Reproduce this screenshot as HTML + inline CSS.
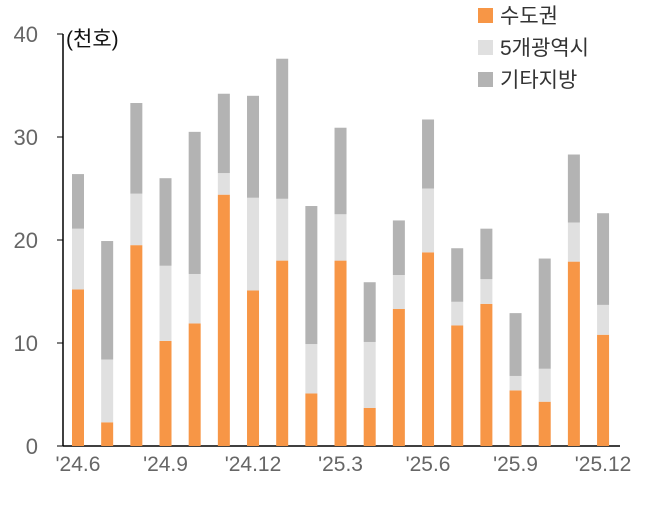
<!DOCTYPE html>
<html><head><meta charset="utf-8"><style>
body{margin:0;background:#fff;}
svg text{font-family:"Liberation Sans","Noto Sans CJK KR",sans-serif;fill:#555;}
</style></head><body>
<svg id="chart" width="648" height="502" xmlns="http://www.w3.org/2000/svg">
<g id="axes"></g><g id="bars"></g>
<text x="66" y="46" font-size="21" style="fill:#111">(천호)</text>
<g>
<rect x="478" y="8" width="15" height="15" fill="#F79646"/>
<text x="500" y="23" font-size="21" style="fill:#333">수도권</text>
<rect x="478" y="40" width="15" height="15" fill="#E0E0E0"/>
<text x="500" y="55" font-size="21" style="fill:#333">5개광역시</text>
<rect x="478" y="72" width="15" height="15" fill="#B3B3B3"/>
<text x="500" y="87" font-size="21" style="fill:#333">기타지방</text>
</g>
</svg>
<script>
const categories=["'24.6","'24.7","'24.8","'24.9","'24.10","'24.11","'24.12","'25.1","'25.2","'25.3","'25.4","'25.5","'25.6","'25.7","'25.8","'25.9","'25.10","'25.11","'25.12"];
const capital=[15.2,2.3,19.5,10.2,11.9,24.4,15.1,18.0,5.1,18.0,3.7,13.3,18.8,11.7,13.8,5.4,4.3,17.9,10.8];
const metro=[5.9,6.1,5.0,7.3,4.8,2.1,9.0,6.0,4.8,4.5,6.4,3.3,6.2,2.3,2.4,1.4,3.2,3.8,2.9];
const other=[5.3,11.5,8.8,8.5,13.8,7.7,9.9,13.6,13.4,8.4,5.8,5.3,6.7,5.2,4.9,6.1,10.7,6.6,8.9];
const yTicks=[0,10,20,30,40];
const xLabelIdx=[0,3,6,9,12,15,18];
const xLabels=["'24.6","'24.9","'24.12","'25.3","'25.6","'25.9","'25.12"];
const ns="http://www.w3.org/2000/svg";
const y=v=>446-v*10.3;
const x=i=>78+i*29.17;
const axes=document.getElementById('axes'),bars=document.getElementById('bars');
function mk(tag,attrs,parent,txt){const e=document.createElementNS(ns,tag);for(const k in attrs)e.setAttribute(k,attrs[k]);if(txt!==undefined)e.textContent=txt;parent.appendChild(e);return e;}
let ax=mk('line',{x1:63,x2:63,y1:34,y2:446,stroke:'#000','stroke-width':1.5},axes);


let bx=mk('line',{x1:63,x2:620,y1:446,y2:446,stroke:'#000','stroke-width':1.5},axes);


yTicks.forEach(t=>{
 const tx=mk('text',{x:38,y:y(t)+8,'font-size':22,'text-anchor':'end',style:'fill:#666'},axes,t);
 
 
 const tk=mk('line',{x1:57,x2:63,y1:y(t),y2:y(t),stroke:'#000'},axes);
 
 
});
xLabelIdx.forEach((idx,j)=>{
 const tx=mk('text',{x:x(idx),y:471,'font-size':21,'text-anchor':'middle',style:'fill:#666'},axes,xLabels[j]);
 
 
});
const series=[[capital,'#F79646','capital'],[metro,'#E0E0E0','metro'],[other,'#B3B3B3','other']];
categories.forEach((c,i)=>{
 let base=0;
 series.forEach(([arr,col,nm])=>{
  const v=arr[i];
  const r=mk('rect',{x:x(i)-6,y:y(base+v),width:12,height:y(base)-y(base+v),fill:col},bars);
  
  
  base+=v;
 });
});
</script>
</body></html>
